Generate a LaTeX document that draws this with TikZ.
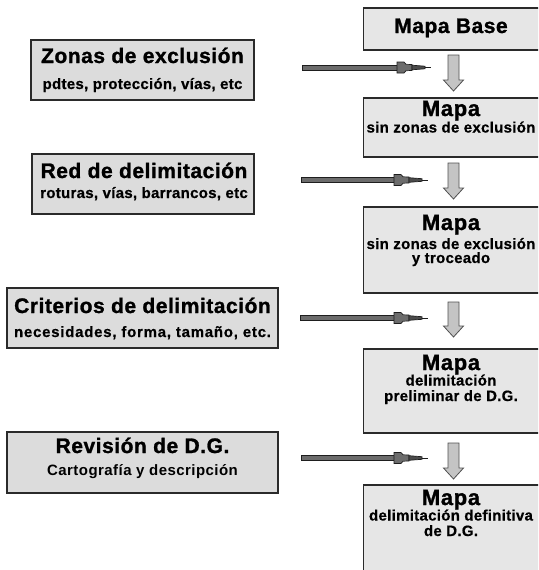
\documentclass[tikz,border=0pt]{standalone}
\usepackage{fontspec}
\setmainfont{Liberation Sans}
\usetikzlibrary{calc}
\definecolor{lfill}{HTML}{DCDCDC}
\definecolor{rfill}{HTML}{E6E6E6}
\definecolor{bline}{HTML}{2A2A2A}
\definecolor{dfill}{HTML}{C4C4C4}
\definecolor{dline}{HTML}{505050}
\definecolor{pfill}{HTML}{6C6C6C}
\definecolor{pline}{HTML}{1E1E1E}
\newcommand\ttl{\fontsize{21}{24}\selectfont\bfseries\addfontfeatures{LetterSpace=2.5,FakeBold=1.2}}
\newcommand\mapa{\fontsize{22}{25}\selectfont\bfseries\addfontfeatures{LetterSpace=3,FakeBold=1.2}}
\newcommand\sub{\fontsize{15}{17}\selectfont\bfseries\addfontfeatures{LetterSpace=2,FakeBold=0.6}}
\newcommand\subw{\fontsize{15}{17}\selectfont\bfseries\addfontfeatures{LetterSpace=5,FakeBold=0.6}}
\newcommand\subr{\fontsize{15}{17}\selectfont\bfseries\addfontfeatures{LetterSpace=3}}
\newcommand\blockdown[2]{%
  \draw[darrow] ($(#1)+(-5.5,0)$) -- ($(#1)+(5.5,0)$) -- ($(#2)+(5.5,-11)$) -- ($(#2)+(10,-11)$)
    -- (#2) -- ($(#2)+(-10,-11)$) -- ($(#2)+(-5.5,-11)$) -- cycle;}
\newcommand\penarrow[2]{%
  \draw[pen] ($(#1)+(0,-2.5)$) rectangle ($(#2)+(-33,2.5)$);
  \draw[pen] ($(#2)+(-34,-5.5)$) -- ($(#2)+(-27,-5.5)$) -- ($(#2)+(-25,-3.2)$) -- ($(#2)+(-19,-3)$)
    -- ($(#2)+(-19,3)$) -- ($(#2)+(-25,3.2)$) -- ($(#2)+(-27,5.5)$) -- ($(#2)+(-34,5.5)$) -- cycle;
  \draw[pen, fill=pline!80] ($(#2)+(-19,-2.3)$) -- ($(#2)+(-6,-1.3)$) -- ($(#2)+(-6,1.3)$) -- ($(#2)+(-19,2.3)$) -- cycle;
  \draw[pline, line width=0.6pt] ($(#2)+(-6,0)$) -- (#2);}
\begin{document}
\begin{tikzpicture}[x=1pt,y=-1pt,
  lbox/.style={draw=bline, fill=lfill, line width=1.3pt, inner sep=0pt},
  rbox/.style={draw=bline, fill=rfill, line width=1.3pt, inner sep=0pt, minimum width=177.5pt},
  txt/.style={anchor=base, inner sep=0pt, text=black},
  darrow/.style={draw=dline, fill=dfill, line width=0.8pt, line join=miter},
  pen/.style={draw=pline, fill=pfill, line width=0.7pt}]
\useasboundingbox (0,0) rectangle (538,570);
\clip (0,0) rectangle (538,570);
\fill[white] (0,0) rectangle (538,570);
% right column boxes
\node[rbox, minimum height=42pt] (b1) at (452.25,29) {};
\node[rbox, minimum height=59pt] (b2) at (452.25,127.5) {};
\node[rbox, minimum height=86pt] (b3) at (452.25,250) {};
\node[rbox, minimum height=84pt] (b4) at (452.25,391) {};
\node[rbox, minimum height=92pt] (b5) at (452.25,531) {};
% left column boxes
\node[lbox, minimum width=223pt, minimum height=60pt] (l1) at (142.5,70) {};
\node[lbox, minimum width=222pt, minimum height=60pt] (l2) at (143,184) {};
\node[lbox, minimum width=271pt, minimum height=60pt] (l3) at (142.5,318) {};
\node[lbox, minimum width=271pt, minimum height=61pt] (l4) at (142.5,462.5) {};
% texts
\node[txt] (t1) at (451,33) {\ttl Mapa Base};
\node[txt] (t2a) at (451,116) {\mapa Mapa};
\node[txt] (t2b) at (451,132.5) {\sub sin zonas de exclusión};
\node[txt] (t3a) at (451,230) {\mapa Mapa};
\node[txt] (t3b) at (451,249) {\sub sin zonas de exclusión};
\node[txt] (t3c) at (451,263) {\sub y troceado};
\node[txt] (t4a) at (451,370) {\mapa Mapa};
\node[txt] (t4b) at (451,385.5) {\sub delimitación};
\node[txt] (t4c) at (451,401) {\sub preliminar de D.G.};
\node[txt] (t5a) at (451,505) {\mapa Mapa};
\node[txt] (t5b) at (451,520.5) {\sub delimitación definitiva};
\node[txt] (t5c) at (451,536) {\sub de D.G.};
\node[txt] (s1a) at (142.5,63) {\ttl Zonas de exclusión};
\node[txt] (s1b) at (142.5,89) {\sub pdtes, protección, vías, etc};
\node[txt] (s2a) at (144,178) {\ttl Red de delimitación};
\node[txt] (s2b) at (144,198) {\sub roturas, vías, barrancos, etc};
\node[txt] (s3a) at (142.5,313) {\ttl Criterios de delimitación};
\node[txt] (s3b) at (142.5,337) {\subw necesidades, forma, tamaño, etc.};
\node[txt] (s4a) at (142.5,453) {\ttl Revisión de D.G.};
\node[txt] (s4b) at (142.5,475) {\subr Cartografía y descripción};
% down arrows
\coordinate (d1s) at (453.5,55);  \coordinate (d1e) at (453.5,91);
\coordinate (d2s) at (453.5,163); \coordinate (d2e) at (453.5,199);
\coordinate (d3s) at (453.5,302); \coordinate (d3e) at (453.5,337);
\coordinate (d4s) at (453.5,443); \coordinate (d4e) at (453.5,479);
\blockdown{d1s}{d1e}
\blockdown{d2s}{d2e}
\blockdown{d3s}{d3e}
\blockdown{d4s}{d4e}
% horizontal pen arrows
\coordinate (h1s) at (302,67.5); \coordinate (h1e) at (431,67.5);
\coordinate (h2s) at (301,180);  \coordinate (h2e) at (428,180);
\coordinate (h3s) at (300,318);  \coordinate (h3e) at (428,318);
\coordinate (h4s) at (301,458);  \coordinate (h4e) at (428,458);
\penarrow{h1s}{h1e}
\penarrow{h2s}{h2e}
\penarrow{h3s}{h3e}
\penarrow{h4s}{h4e}
\end{tikzpicture}
\end{document}
